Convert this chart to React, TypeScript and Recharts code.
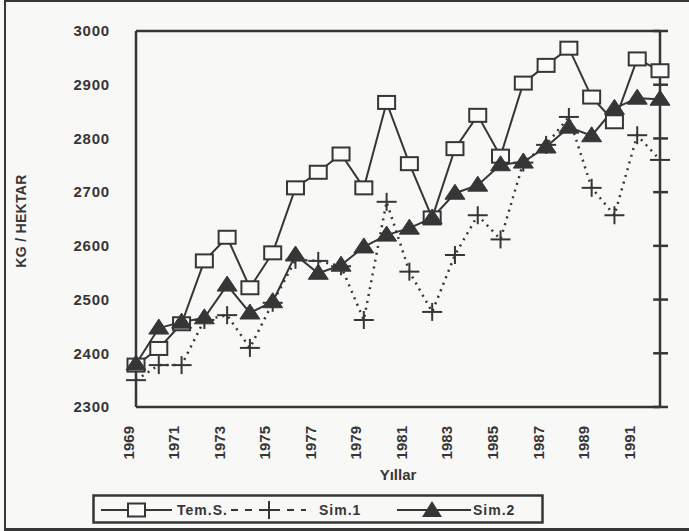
import React from 'react';
import { LineChart, Line, XAxis, YAxis, ReferenceLine, Legend, Label } from 'recharts';

const years = [1969, 1970, 1971, 1972, 1973, 1974, 1975, 1976, 1977, 1978, 1979, 1980, 1981, 1982, 1983, 1984, 1985, 1986, 1987, 1988, 1989, 1990, 1991, 1992];
const temS = [2378, 2409, 2455, 2572, 2616, 2522, 2587, 2708, 2737, 2771, 2708, 2867, 2753, 2652, 2781, 2843, 2767, 2903, 2936, 2968, 2877, 2831, 2948, 2926];
const sim1 = [2350, 2378, 2378, 2462, 2471, 2410, 2494, 2574, 2572, 2562, 2462, 2682, 2552, 2477, 2583, 2657, 2612, 2755, 2788, 2840, 2708, 2657, 2806, 2760];
const sim2 = [2380, 2447, 2458, 2466, 2527, 2475, 2496, 2583, 2549, 2564, 2598, 2620, 2633, 2652, 2698, 2713, 2751, 2756, 2784, 2821, 2805, 2856, 2875, 2873];
const xTicks = [1969, 1971, 1973, 1975, 1977, 1979, 1981, 1983, 1985, 1987, 1989, 1991];
const yTicks = [2300, 2400, 2500, 2600, 2700, 2800, 2900, 3000];
const seriesNames = ['Tem.S.', 'Sim.1', 'Sim.2'];
const xTitle = 'Yıllar';
const yTitle = 'KG / HEKTAR';

const data = years.map((y, i) => ({ year: y, temS: temS[i], sim1: sim1[i], sim2: sim2[i] }));

const INK = '#363636';
const FONT = '"Liberation Sans", Arial, sans-serif';

const SquareDot = (p: any) => {
  const { cx, cy, index } = p;
  if (cx == null || cy == null) return <g key={`s${index}`} />;
  return <rect key={`s${index}`} x={cx - 8.5} y={cy - 6.5} width={17} height={13} fill="#fafaf8" stroke={INK} strokeWidth={2} />;
};
const TriDot = (p: any) => {
  const { cx, cy, index } = p;
  if (cx == null || cy == null) return <g key={`t${index}`} />;
  return <polygon key={`t${index}`} points={`${cx - 10},${cy + 6} ${cx + 10},${cy + 6} ${cx},${cy - 9}`} fill={INK} stroke={INK} strokeWidth={1} />;
};
const PlusDot = (p: any) => {
  const { cx, cy, index } = p;
  if (cx == null || cy == null) return <g key={`p${index}`} />;
  return (
    <g key={`p${index}`} stroke={INK} strokeWidth={2}>
      <line x1={cx - 10} y1={cy} x2={cx + 10} y2={cy} />
      <line x1={cx} y1={cy - 9} x2={cx} y2={cy + 9} />
    </g>
  );
};

const XTick = (p: any) => {
  const { x, y, payload } = p;
  const tx = x - 8;
  const ty = y + 19;
  return (
    <text x={tx} y={ty} transform={`rotate(-90, ${tx}, ${ty})`} textAnchor="end" dominantBaseline="central"
      fontFamily={FONT} fontWeight="bold" fontSize={15} fill={INK}>{payload.value}</text>
  );
};

const LegendBox = () => {
  const t = { fontFamily: FONT, fontWeight: 'bold' as const, fontSize: 14, fill: INK, letterSpacing: 1 };
  return (
    <svg width={452} height={30} style={{ display: 'block' }}>
      <rect x={1.5} y={1.5} width={449} height={27} fill="none" stroke={INK} strokeWidth={2.5} />
      <line x1={9} y1={16} x2={80} y2={16} stroke={INK} strokeWidth={2} />
      <rect x={36} y={9.5} width={17} height={13} fill="#fafaf8" stroke={INK} strokeWidth={2} />
      <text x={85} y={21} {...t}>{seriesNames[0]}</text>
      <line x1={139} y1={16} x2={214} y2={16} stroke={INK} strokeWidth={2} strokeDasharray="7 7" />
      <line x1={167} y1={16} x2={187} y2={16} stroke={INK} strokeWidth={2} />
      <line x1={177} y1={7} x2={177} y2={25} stroke={INK} strokeWidth={2} />
      <text x={227} y={21} {...t}>{seriesNames[1]}</text>
      <line x1={305} y1={16} x2={379} y2={16} stroke={INK} strokeWidth={2} />
      <polygon points="330,23 350,23 340,7" fill={INK} />
      <text x={381} y={21} {...t}>{seriesNames[2]}</text>
    </svg>
  );
};

export default function App() {
  return (
    <div style={{ position: 'absolute', left: 0, top: 0, width: 689, height: 531, background: '#f8f8f6', overflow: 'hidden' }}>
      <div style={{ position: 'absolute', left: 4, top: 0, width: 700, height: 526, borderLeft: `2px solid ${INK}`, borderTop: `2px solid ${INK}`, borderBottom: `3px solid ${INK}` }} />
      <div style={{ position: 'absolute', left: 0, top: 0 }}>
        <LineChart width={689} height={531} data={data} margin={{ top: 31, right: 29, bottom: 34, left: 0 }}>
          <XAxis dataKey="year" type="number" domain={[1969, 1992]} ticks={xTicks} interval={0}
            axisLine={{ stroke: INK, strokeWidth: 2.5 }} tickLine={false} tickSize={0} tickMargin={0} height={60} tick={<XTick />}>
            <Label content={(lp: any) => (
              <text x={lp.viewBox.x + lp.viewBox.width / 2} y={lp.viewBox.y + 73} textAnchor="middle"
                fontFamily={FONT} fontWeight="bold" fontSize={15} fill={INK}>{xTitle}</text>
            )} />
          </XAxis>
          <YAxis domain={[2300, 3000]} ticks={yTicks} interval={0} width={136} tickLine={false} tickSize={0} tickMargin={26}
            axisLine={{ stroke: INK, strokeWidth: 2.5 }}
            tick={{ fontFamily: FONT, fontWeight: 'bold', fontSize: 15, fill: INK, letterSpacing: 0.8 }}>
            <Label content={(lp: any) => {
              const cx = 20.5;
              const cy = lp.viewBox.y + lp.viewBox.height / 2 + 2;
              return (
                <text x={cx} y={cy} transform={`rotate(-90, ${cx}, ${cy})`} textAnchor="middle" dominantBaseline="central"
                  fontFamily={FONT} fontWeight="bold" fontSize={14} fill={INK} letterSpacing={0.3}>{yTitle}</text>
              );
            }} />
          </YAxis>
          <ReferenceLine y={3000} stroke={INK} strokeWidth={2.5} ifOverflow="visible" />
          <ReferenceLine x={1992} stroke={INK} strokeWidth={2.5} ifOverflow="visible" />
          {yTicks.map((v) => (
            <ReferenceLine key={v} segment={[{ x: 1991.7, y: v }, { x: 1992.35, y: v }]} stroke={INK} strokeWidth={2.5} ifOverflow="visible" />
          ))}
          <Line dataKey="sim1" name={seriesNames[1]} stroke={INK} strokeWidth={2.5} strokeDasharray="2 5" dot={PlusDot} isAnimationActive={false} />
          <Line dataKey="temS" name={seriesNames[0]} stroke={INK} strokeWidth={2} dot={SquareDot} isAnimationActive={false} />
          <Line dataKey="sim2" name={seriesNames[2]} stroke={INK} strokeWidth={2} dot={TriDot} isAnimationActive={false} />
          <Legend content={<LegendBox />} wrapperStyle={{ position: 'absolute', left: 92, top: 494, width: 452, height: 30 }} />
        </LineChart>
      </div>
    </div>
  );
}
